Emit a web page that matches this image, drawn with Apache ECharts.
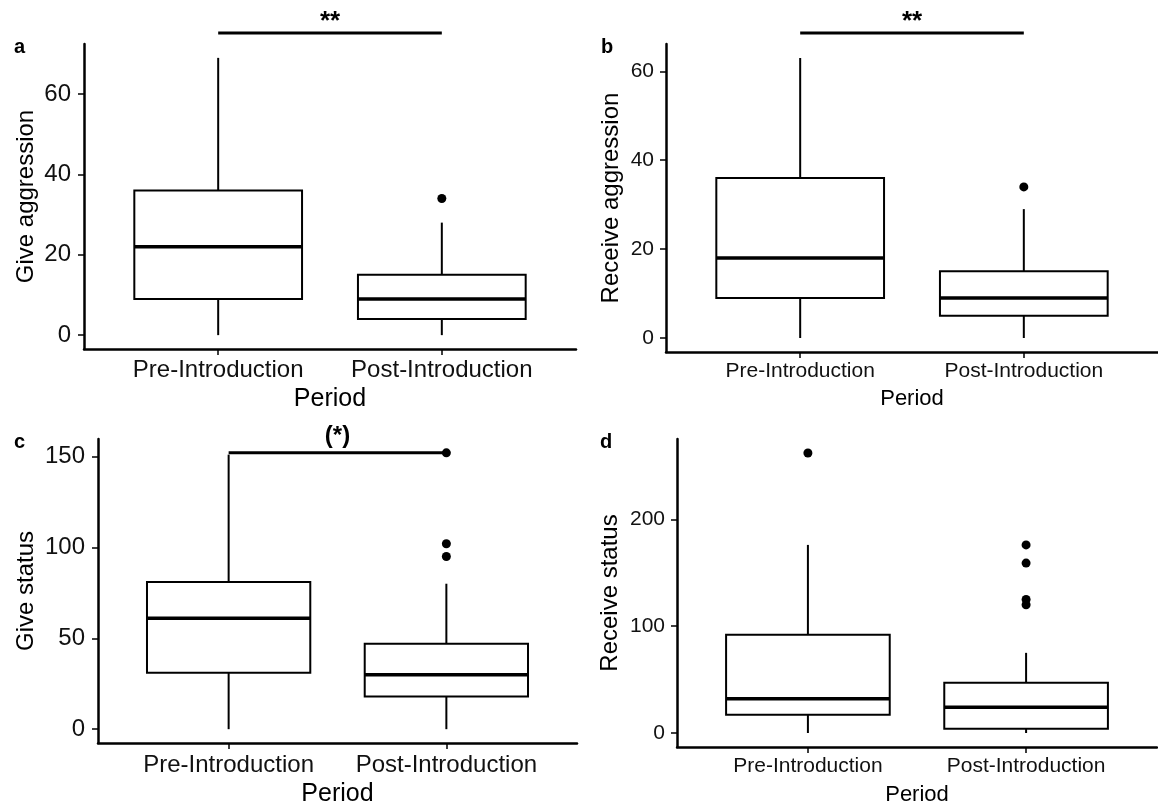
<!DOCTYPE html>
<html>
<head>
<meta charset="UTF-8">
<title>Aggression and status by period</title>
<style>
  html, body { margin: 0; padding: 0; background: #fff; }
  #main { width: 1158px; height: 810px; }
</style>
</head>
<body>
<div id="main"></div>
<script src="https://cdn.jsdelivr.net/npm/echarts@6/dist/echarts.min.js"></script>
<script>
var categories = ['Pre-Introduction', 'Post-Introduction'];

// box stats per period: [min, Q1, median, Q3, max]
var giveAggression = [[0, 9, 22, 36, 69], [0, 4, 9, 15, 28]];
var giveAggressionOut = [[], [34]];
var receiveAggression = [[0, 9, 18, 36, 63], [0, 5, 9, 15, 29]];
var receiveAggressionOut = [[], [34]];
var giveStatus = [[0, 31, 61, 81, 151], [0, 18, 30, 47, 80]];
var giveStatusOut = [[], [95, 102, 152]];
var receiveStatus = [[0, 17, 32, 92, 176], [0, 4, 24, 47, 75]];
var receiveStatusOut = [[262], [120, 125, 159, 176]];

// y tick labels per panel
var ticksA = [0, 20, 40, 60];
var ticksB = [0, 20, 40, 60];
var ticksC = [0, 50, 100, 150];
var ticksD = [0, 100, 200];

// significance brackets: [from, to, y]
var sigA = [1, 2, 75.2];
var sigB = [1, 2, 68.6];
var sigC = [1, 2, 152];

var FONT = "'Liberation Sans', Arial, sans-serif";

function boxData(stats) {
  return stats.map(function (s, i) { return [i + 1].concat(s); });
}
function outData(outs) {
  var res = [];
  outs.forEach(function (vals, i) {
    vals.forEach(function (v) { res.push([i + 1, v]); });
  });
  return res;
}
// ggplot style range expansion (5%)
function yRange(stats, outs) {
  var lo = Infinity, hi = -Infinity;
  stats.forEach(function (s) { lo = Math.min(lo, s[0]); hi = Math.max(hi, s[4]); });
  outs.forEach(function (o) { o.forEach(function (v) { lo = Math.min(lo, v); hi = Math.max(hi, v); }); });
  var pad = (hi - lo) * 0.05;
  return [lo - pad, hi + pad];
}

function renderBox(params, api) {
  var x = api.value(0);
  var lo = api.coord([x, api.value(1)]);
  var q1 = api.coord([x, api.value(2)]);
  var med = api.coord([x, api.value(3)]);
  var q3 = api.coord([x, api.value(4)]);
  var hi = api.coord([x, api.value(5)]);
  var half = api.size([0.375, 0])[0];
  var st = { stroke: '#000', lineWidth: 2, fill: null };
  return {
    type: 'group',
    children: [
      { type: 'line', shape: { x1: hi[0], y1: hi[1], x2: q3[0], y2: q3[1] }, style: st },
      { type: 'line', shape: { x1: lo[0], y1: lo[1], x2: q1[0], y2: q1[1] }, style: st },
      { type: 'rect', shape: { x: q3[0] - half, y: q3[1], width: half * 2, height: q1[1] - q3[1] },
        style: { stroke: '#000', lineWidth: 2, fill: '#fff' } },
      { type: 'line', shape: { x1: med[0] - half, y1: med[1], x2: med[0] + half, y2: med[1] },
        style: { stroke: '#000', lineWidth: 3.5 } }
    ]
  };
}

function bracketRender(label, fontSize, lift) {
  return function (params, api) {
    var p1 = api.coord([api.value(0), api.value(2)]);
    var p2 = api.coord([api.value(1), api.value(2)]);
    return {
      type: 'group',
      children: [
        { type: 'line', shape: { x1: p1[0], y1: p1[1], x2: p2[0], y2: p2[1] },
          style: { stroke: '#000', lineWidth: 3 } },
        { type: 'text', x: (p1[0] + p2[0]) / 2, y: p1[1] - lift,
          style: { text: label, fill: '#000', font: 'bold ' + fontSize + 'px ' + FONT,
                   align: 'center', verticalAlign: 'middle' } }
      ]
    };
  };
}

var panels = [
  { stats: giveAggression, outs: giveAggressionOut, ticks: ticksA, title: 'Give aggression',
    grid: { left: 84, top: 44, width: 492, height: 305 }, fs: 24, catFs: 24, nameGap: 46, xGap: 38, yMargin: 13, xMargin: 9,
    sig: sigA, sigLabel: '**', sigFs: 26, sigLift: 11 },
  { stats: receiveAggression, outs: receiveAggressionOut, ticks: ticksB, title: 'Receive aggression',
    grid: { left: 666, top: 44, width: 492, height: 308 }, fs: 21, catFs: 21, nameGap: 43, xGap: 36, yMargin: 12, xMargin: 9,
    sig: sigB, sigLabel: '**', sigFs: 26, sigLift: 11 },
  { stats: giveStatus, outs: giveStatusOut, ticks: ticksC, title: 'Give status',
    grid: { left: 98, top: 439, width: 479, height: 304 }, fs: 24, catFs: 24, nameGap: 60, xGap: 39, yMargin: 13, xMargin: 10,
    sig: sigC, sigLabel: '(*)', sigFs: 24, sigLift: 16 },
  { stats: receiveStatus, outs: receiveStatusOut, ticks: ticksD, title: 'Receive status',
    grid: { left: 677, top: 439, width: 480, height: 308 }, fs: 21, catFs: 21, nameGap: 55, xGap: 37, yMargin: 12, xMargin: 9,
    sig: null }
];

var letters = [['a', 14, 37], ['b', 601, 37], ['c', 14, 432], ['d', 600, 432]];

var option = {
  animation: false,
  backgroundColor: '#fff',
  textStyle: { fontFamily: FONT },
  title: letters.map(function (l) {
    return { text: l[0], left: l[1], top: l[2], padding: 0,
             textStyle: { fontSize: 20, fontWeight: 'bold', color: '#000', fontFamily: FONT } };
  }),
  grid: [], xAxis: [], yAxis: [], series: []
};

panels.forEach(function (p, k) {
  var yr = yRange(p.stats, p.outs);
  option.grid.push(p.grid);
  option.xAxis.push({
    type: 'value', gridIndex: k, min: 0.4, max: 2.6,
    name: 'Period', nameLocation: 'middle', nameGap: p.xGap,
    nameTextStyle: { fontSize: p.fs + 1, color: '#000', verticalAlign: 'top' },
    axisLine: { show: true, onZero: false, lineStyle: { color: '#000', width: 2.5 } },
    axisTick: { show: true, customValues: [1, 2], length: 6, lineStyle: { color: '#000', width: 1.5 } },
    axisLabel: { customValues: [1, 2], margin: p.xMargin, fontSize: p.catFs, color: '#111',
                 formatter: function (v) { return categories[Math.round(v) - 1]; } },
    splitLine: { show: false }
  });
  option.yAxis.push({
    type: 'value', gridIndex: k, min: yr[0], max: yr[1],
    name: p.title, nameLocation: 'middle', nameGap: p.nameGap,
    nameTextStyle: { fontSize: 24, color: '#000' },
    axisLine: { show: true, onZero: false, lineStyle: { color: '#000', width: 2.5 } },
    axisTick: { show: true, customValues: p.ticks, length: 6, lineStyle: { color: '#000', width: 1.5 } },
    axisLabel: { customValues: p.ticks, margin: p.yMargin, fontSize: p.fs, color: '#111' },
    splitLine: { show: false }
  });
  option.series.push({
    type: 'custom', xAxisIndex: k, yAxisIndex: k,
    renderItem: renderBox, data: boxData(p.stats), z: 2
  });
  option.series.push({
    type: 'scatter', xAxisIndex: k, yAxisIndex: k, symbolSize: 9,
    itemStyle: { color: '#000', opacity: 1 }, data: outData(p.outs), z: 4
  });
  if (p.sig) {
    option.series.push({
      type: 'custom', xAxisIndex: k, yAxisIndex: k, clip: false,
      renderItem: bracketRender(p.sigLabel, p.sigFs, p.sigLift), data: [p.sig], z: 3
    });
  }
});

var chart = echarts.init(document.getElementById('main'));
chart.setOption(option);
</script>
</body>
</html>
